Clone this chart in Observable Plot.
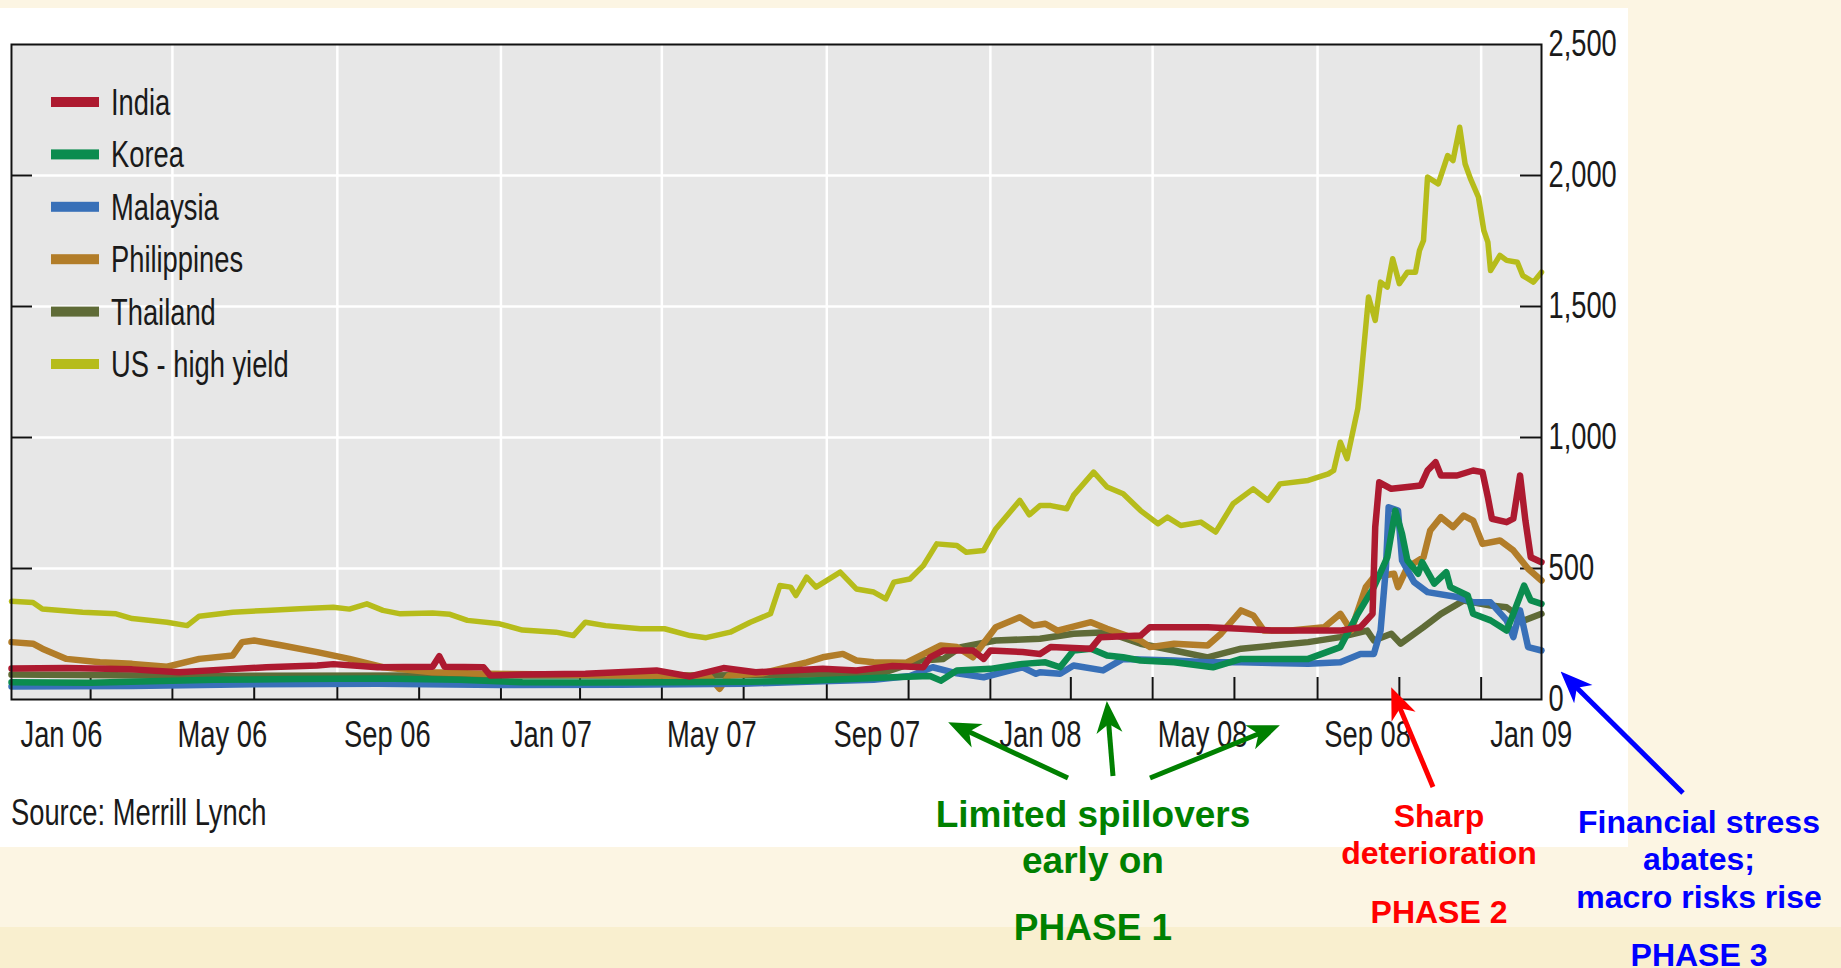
<!DOCTYPE html>
<html><head><meta charset="utf-8">
<script src="https://cdn.jsdelivr.net/npm/d3@7"></script>
<script src="https://cdn.jsdelivr.net/npm/@observablehq/plot@0.6"></script>
<style>
html,body{margin:0;padding:0;}
body{width:1841px;height:968px;background:#FCF5E3;position:relative;overflow:hidden;}
#panel{position:absolute;left:0;top:8px;width:1628px;height:839px;background:#fff;}
#band{position:absolute;left:0;top:927px;width:1841px;height:41px;background:#F9EFCF;}
#chart{position:absolute;left:0;top:8px;}
#overlay{position:absolute;left:0;top:0;pointer-events:none;}
</style></head><body>
<div id="band"></div>
<div id="panel"></div>
<div id="chart"></div>
<svg id="overlay" width="1841" height="968"></svg>
<script>
// ---------- data ----------
const seriesNames = ["India", "Korea", "Malaysia", "Philippines", "Thailand", "US - high yield"];
const seriesColors = ["#AD1A30", "#0B8C4F", "#3870B8", "#B27D29", "#5F6B37", "#B6BC1B"];

const india = [["2006-01-01",118],["2006-02-11",120],["2006-04-01",115],["2006-05-06",104],["2006-06-10",115],["2006-07-10",123],["2006-08-17",130],["2006-08-29",135],["2006-10-01",123],["2006-11-11",125],["2006-11-16",165],["2006-11-20",125],["2006-12-19",123],["2006-12-24",92],["2007-01-17",95],["2007-03-05",98],["2007-04-27",111],["2007-05-22",88],["2007-06-16",120],["2007-07-10",104],["2007-08-05",111],["2007-08-29",117],["2007-09-23",111],["2007-10-20",128],["2007-11-12",123],["2007-11-17",161],["2007-11-27",187],["2007-12-19",187],["2007-12-27",155],["2008-01-01",187],["2008-01-25",181],["2008-02-07",174],["2008-02-15",200],["2008-03-16",194],["2008-03-23",238],["2008-04-22",244],["2008-04-29",276],["2008-06-11",276],["2008-07-06",270],["2008-07-30",263],["2008-08-25",263],["2008-09-18",263],["2008-10-03",276],["2008-10-12",327],["2008-10-14",658],["2008-10-17",829],["2008-10-26",804],["2008-11-07",811],["2008-11-17",817],["2008-11-22",874],["2008-11-28",906],["2008-12-02",855],["2008-12-14",855],["2008-12-26",874],["2009-01-02",868],["2009-01-06",772],["2009-01-09",690],["2009-01-20",677],["2009-01-25",690],["2009-01-30",855],["2009-02-03",683],["2009-02-07",543],["2009-02-15",524]];

const korea = [["2006-01-01",66],["2006-03-01",64],["2006-04-15",70],["2006-06-01",75],["2006-08-01",78],["2006-10-01",80],["2006-12-01",75],["2007-01-17",66],["2007-03-05",65],["2007-05-03",66],["2007-07-06",68],["2007-08-17",72],["2007-09-23",79],["2007-10-20",85],["2007-11-17",90],["2007-11-25",72],["2007-12-07",111],["2008-01-01",117],["2008-01-25",136],["2008-02-11",142],["2008-02-22",123],["2008-03-03",187],["2008-03-16",194],["2008-03-28",168],["2008-04-09",161],["2008-04-22",149],["2008-05-17",142],["2008-06-15",123],["2008-07-06",155],["2008-07-30",155],["2008-08-25",155],["2008-09-18",200],["2008-10-01",327],["2008-10-13",429],["2008-10-23",543],["2008-10-29",721],["2008-11-03",632],["2008-11-07",531],["2008-11-15",480],["2008-11-18",524],["2008-11-27",442],["2008-12-06",486],["2008-12-09",429],["2008-12-22",397],["2008-12-26",327],["2009-01-08",302],["2009-01-20",263],["2009-01-25",327],["2009-02-02",435],["2009-02-07",378],["2009-02-15",365]];

const malaysia = [["2006-01-01",50],["2006-04-01",52],["2006-07-01",58],["2006-10-01",60],["2007-01-01",55],["2007-04-01",56],["2007-07-01",60],["2007-08-17",68],["2007-10-06",75],["2007-11-02",90],["2007-11-19",123],["2007-12-07",100],["2007-12-27",85],["2008-01-25",123],["2008-02-04",98],["2008-02-07",104],["2008-02-22",98],["2008-03-03",130],["2008-03-25",111],["2008-04-09",155],["2008-05-17",149],["2008-06-11",142],["2008-07-06",142],["2008-08-25",136],["2008-09-18",142],["2008-10-03",174],["2008-10-13",174],["2008-10-18",263],["2008-10-22",505],["2008-10-24",734],["2008-10-31",721],["2008-11-03",531],["2008-11-12",448],["2008-11-22",410],["2008-12-14",391],["2008-12-26",371],["2009-01-08",371],["2009-01-20",302],["2009-01-25",238],["2009-01-30",340],["2009-02-05",200],["2009-02-15",187]];

const philippines = [["2006-01-01",219],["2006-01-17",213],["2006-01-24",194],["2006-02-11",155],["2006-03-08",142],["2006-04-01",136],["2006-04-27",125],["2006-05-21",155],["2006-06-15",168],["2006-06-22",219],["2006-07-01",225],["2006-07-22",206],["2006-08-17",181],["2006-09-10",155],["2006-10-05",123],["2006-11-11",104],["2006-12-19",98],["2007-02-15",95],["2007-04-15",92],["2007-06-05",90],["2007-06-13",41],["2007-06-20",92],["2007-07-15",100],["2007-08-17",142],["2007-08-29",161],["2007-09-13",174],["2007-09-23",149],["2007-10-06",142],["2007-10-30",140],["2007-11-25",206],["2007-12-07",200],["2007-12-19",161],["2008-01-05",276],["2008-01-23",314],["2008-02-02",282],["2008-02-11",289],["2008-02-20",263],["2008-03-16",295],["2008-03-28",270],["2008-04-22",225],["2008-04-29",200],["2008-05-17",213],["2008-06-11",206],["2008-06-21",251],["2008-07-06",340],["2008-07-15",321],["2008-07-23",263],["2008-08-12",263],["2008-09-06",276],["2008-09-18",327],["2008-09-26",263],["2008-10-07",429],["2008-10-13",467],["2008-10-28",480],["2008-10-31",429],["2008-11-07",505],["2008-11-19",543],["2008-11-24",645],["2008-12-02",696],["2008-12-11",658],["2008-12-19",702],["2008-12-26",683],["2009-01-02",594],["2009-01-15",607],["2009-01-25",569],["2009-02-05",499],["2009-02-15",454]];

const thailand = [["2006-01-01",95],["2006-06-01",90],["2006-12-01",92],["2007-06-01",92],["2007-09-01",95],["2007-10-15",105],["2007-11-10",149],["2007-11-27",155],["2007-12-10",200],["2008-01-05",225],["2008-02-07",232],["2008-03-03",251],["2008-03-28",257],["2008-04-22",213],["2008-05-17",187],["2008-06-11",161],["2008-07-06",194],["2008-07-30",206],["2008-08-25",219],["2008-09-18",238],["2008-10-08",263],["2008-10-13",225],["2008-10-26",251],["2008-11-02",213],["2008-11-19",276],["2008-12-02",327],["2008-12-19",378],["2009-01-08",359],["2009-01-20",352],["2009-02-02",302],["2009-02-15",327]];

const usHighYield = [["2006-01-01",375],["2006-01-17",370],["2006-01-24",345],["2006-02-23",333],["2006-03-20",327],["2006-04-01",309],["2006-04-27",295],["2006-05-12",282],["2006-05-21",318],["2006-06-15",333],["2006-07-10",340],["2006-08-04",346],["2006-08-29",352],["2006-09-10",345],["2006-09-23",365],["2006-10-05",340],["2006-10-18",327],["2006-11-11",330],["2006-11-24",325],["2006-12-07",302],["2006-12-31",289],["2007-01-17",265],["2007-02-11",257],["2007-02-24",244],["2007-03-05",295],["2007-03-20",282],["2007-04-15",270],["2007-05-03",270],["2007-05-22",244],["2007-06-03",236],["2007-06-21",257],["2007-07-06",295],["2007-07-21",327],["2007-07-28",435],["2007-08-05",429],["2007-08-09",397],["2007-08-17",467],["2007-08-24",429],["2007-09-11",486],["2007-09-23",422],["2007-10-06",410],["2007-10-15",384],["2007-10-21",448],["2007-11-02",460],["2007-11-12",511],["2007-11-22",594],["2007-12-07",588],["2007-12-14",562],["2007-12-27",569],["2008-01-05",651],["2008-01-23",760],["2008-01-30",705],["2008-02-07",740],["2008-02-15",740],["2008-02-27",728],["2008-03-03",779],["2008-03-18",868],["2008-03-28",811],["2008-04-09",785],["2008-04-22",721],["2008-05-05",671],["2008-05-12",696],["2008-05-22",664],["2008-06-06",677],["2008-06-17",639],["2008-06-30",747],["2008-07-15",804],["2008-07-26",760],["2008-08-04",823],["2008-08-25",836],["2008-09-09",861],["2008-09-13",874],["2008-09-18",982],["2008-09-23",919],["2008-10-01",1110],["2008-10-03",1205],["2008-10-09",1536],["2008-10-14",1447],["2008-10-18",1593],["2008-10-23",1574],["2008-10-27",1682],["2008-11-01",1587],["2008-11-07",1631],["2008-11-13",1631],["2008-11-16",1714],["2008-11-19",1752],["2008-11-22",1994],["2008-11-30",1968],["2008-12-07",2076],["2008-12-11",2057],["2008-12-16",2184],["2008-12-20",2045],["2008-12-24",1988],["2008-12-30",1917],["2009-01-03",1790],["2009-01-06",1746],["2009-01-08",1637],["2009-01-15",1695],["2009-01-20",1676],["2009-01-28",1669],["2009-02-01",1618],["2009-02-09",1593],["2009-02-15",1631]];

const xLabelDates = ["2006-01-01","2006-05-01","2006-09-01","2007-01-01","2007-05-01","2007-09-01","2008-01-01","2008-05-01","2008-09-01","2009-01-01"];
const xLabels = ["Jan 06","May 06","Sep 06","Jan 07","May 07","Sep 07","Jan 08","May 08","Sep 08","Jan 09"];
const xMinorTicks = ["2006-03-01","2006-05-01","2006-07-01","2006-09-01","2006-11-01","2007-01-01","2007-03-01","2007-05-01","2007-07-01","2007-09-01","2007-11-01","2008-01-01","2008-03-01","2008-05-01","2008-07-01","2008-09-01","2008-11-01","2009-01-01"];
const yTicks = [0, 500, 1000, 1500, 2000, 2500];
const yGrid = [500, 1000, 1500, 2000];
const xDomain = ["2006-01-01", "2009-02-15"];

// ---------- build ----------
const seriesData = [india, korea, malaysia, philippines, thailand, usHighYield];
const drawOrder = [4, 3, 2, 1, 0];
const rows = [];
for (const i of drawOrder) for (const [d, v] of seriesData[i]) rows.push({series: seriesNames[i], date: new Date(d), value: v});
const usRows = usHighYield.map(([d, v]) => ({series: seriesNames[5], date: new Date(d), value: v}));

const labelMap = new Map(xLabelDates.map((d, i) => [+new Date(d), xLabels[i]]));
const NARROW = '"Liberation Sans Narrow", "Liberation Sans", Arial, sans-serif';
const BOLD = '"Liberation Sans", Arial, sans-serif';

const W = 1628, H = 760, mL = 11, mR = 87, mT = 36, mB = 69;
const innerW = W - mL - mR, innerH = H - mT - mB;

const plot = Plot.plot({
  width: W, height: H,
  marginLeft: mL, marginRight: mR, marginTop: mT, marginBottom: mB,
  style: {background: "transparent", overflow: "visible", fontFamily: NARROW, fontSize: "37px", color: "#1a1a1a"},
  x: {type: "utc", domain: xDomain.map(d => new Date(d))},
  y: {domain: [0, 2500]},
  color: {domain: seriesNames, range: seriesColors},
  marks: [
    Plot.frame({fill: "#E7E7E7"}),
    Plot.ruleY(yGrid, {stroke: "#fff", strokeWidth: 2.5}),
    Plot.ruleX(xLabelDates.map(d => new Date(d)), {stroke: "#fff", strokeWidth: 2.5}),
    Plot.ruleX(xMinorTicks.map(d => new Date(d)), {stroke: "#111", strokeWidth: 2, insetTop: innerH - 22}),
    Plot.ruleY(yGrid, {stroke: "#111", strokeWidth: 2, insetRight: innerW - 21}),
    Plot.ruleY(yGrid, {stroke: "#111", strokeWidth: 2, insetLeft: innerW - 21}),
    Plot.line(usRows, {x: "date", y: "value", stroke: "series", strokeWidth: 5.5, strokeLinejoin: "round", strokeLinecap: "round"}),
    Plot.line(rows, {x: "date", y: "value", z: "series", stroke: "series", strokeWidth: 6.5, strokeLinejoin: "round", strokeLinecap: "round"}),
    Plot.frame({stroke: "#111", strokeWidth: 2}),
    Plot.axisX(xLabelDates.map(d => new Date(d)), {anchor: "bottom", tickSize: 0, tickPadding: 21, dx: 50, label: null, tickFormat: d => labelMap.get(+d), fontSize: 37}),
    Plot.axisY(yTicks, {anchor: "right", tickSize: 0, tickPadding: 7, label: null, tickFormat: d3.format(","), fontSize: 37})
  ]
});
document.getElementById("chart").appendChild(plot);

// ---------- overlay: legend, source, annotations ----------
const ov = d3.select("#overlay");
const defs = ov.append("defs");
const arrowColors = {green: "#008000", red: "#FF0000", blue: "#0000FF"};
for (const [k, c] of Object.entries(arrowColors)) {
  defs.append("marker").attr("id", "ah-" + k).attr("markerUnits", "userSpaceOnUse")
    .attr("viewBox", "-32 -15 34 30").attr("refX", 0).attr("refY", 0)
    .attr("markerWidth", 34).attr("markerHeight", 30).attr("orient", "auto")
    .append("path").attr("d", "M2,0 L-30,-13 L-21,0 L-30,13 Z").attr("fill", c);
}

// measure the text font to condense it like the reference's narrow face
const probe = ov.append("text").attr("font-family", NARROW).attr("font-size", 37).text("Jan 06");
const probeLen = probe.node().getComputedTextLength();
probe.remove();
const squeeze = probeLen > 0 ? Math.min(1, 82 / probeLen) : 1;
function condense(el) {
  const len = el.getComputedTextLength();
  if (len > 0 && squeeze < 1) {
    el.setAttribute("textLength", (len * squeeze).toFixed(1));
    el.setAttribute("lengthAdjust", "spacingAndGlyphs");
  }
}
plot.querySelectorAll("text").forEach(condense);

// legend
const leg = ov.append("g");
seriesNames.forEach((name, i) => {
  const cy = 102 + i * 52.4;
  leg.append("rect").attr("x", 51).attr("y", cy - 5).attr("width", 48).attr("height", 10).attr("fill", seriesColors[i]);
  leg.append("text").attr("x", 111).attr("y", cy + 13).attr("font-family", NARROW).attr("font-size", 37)
    .attr("fill", "#1a1a1a").text(name).each(function(){ condense(this); });
});

// source
ov.append("text").attr("x", 11).attr("y", 825).attr("font-family", NARROW).attr("font-size", 37)
  .attr("fill", "#1a1a1a").text("Source: Merrill Lynch").each(function(){ condense(this); });

// arrows
const arrows = [
  {c: "green", x1: 1068, y1: 778, x2: 950, y2: 723},
  {c: "green", x1: 1113, y1: 776, x2: 1107, y2: 703},
  {c: "green", x1: 1150, y1: 778, x2: 1278, y2: 726},
  {c: "red", x1: 1433, y1: 787, x2: 1392, y2: 689},
  {c: "blue", x1: 1683, y1: 793, x2: 1562, y2: 673}
];
for (const a of arrows) {
  const dx = a.x2 - a.x1, dy = a.y2 - a.y1, L = Math.hypot(dx, dy);
  const ex = a.x2 - dx / L * 18, ey = a.y2 - dy / L * 18;
  ov.append("line").attr("x1", a.x1).attr("y1", a.y1).attr("x2", ex).attr("y2", ey)
    .attr("stroke", arrowColors[a.c]).attr("stroke-width", 5);
  ov.append("path").attr("d", `M${a.x1},${a.y1}L${a.x2},${a.y2}`).attr("stroke", "none").attr("fill", "none")
    .attr("marker-end", `url(#ah-${a.c})`);
}

// annotation texts
const notes = [
  {t: "Limited spillovers", x: 1093, y: 827, c: "green", s: 37},
  {t: "early on", x: 1093, y: 873, c: "green", s: 37},
  {t: "PHASE 1", x: 1093, y: 940, c: "green", s: 37},
  {t: "Sharp", x: 1439, y: 827, c: "red", s: 32},
  {t: "deterioration", x: 1439, y: 864, c: "red", s: 32},
  {t: "PHASE 2", x: 1439, y: 923, c: "red", s: 32},
  {t: "Financial stress", x: 1699, y: 833, c: "blue", s: 32},
  {t: "abates;", x: 1699, y: 870, c: "blue", s: 32},
  {t: "macro risks rise", x: 1699, y: 908, c: "blue", s: 32},
  {t: "PHASE 3", x: 1699, y: 966, c: "blue", s: 32}
];
for (const n of notes) {
  ov.append("text").attr("x", n.x).attr("y", n.y).attr("text-anchor", "middle")
    .attr("font-family", BOLD).attr("font-weight", "bold").attr("font-size", n.s)
    .attr("fill", arrowColors[n.c]).text(n.t);
}
</script>
</body></html>
